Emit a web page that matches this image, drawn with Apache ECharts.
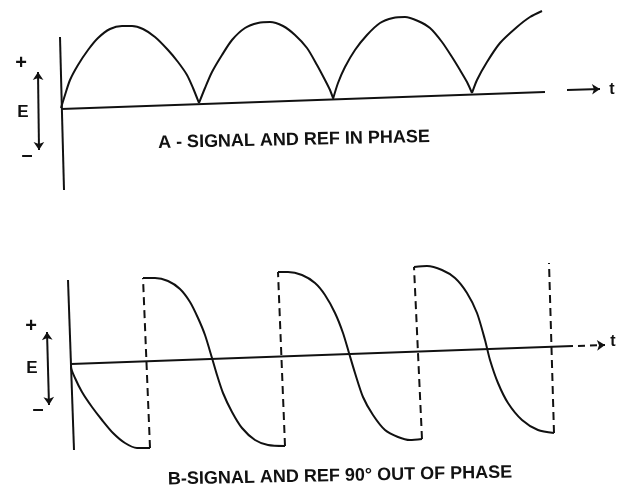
<!DOCTYPE html>
<html lang="en">
<head>
<meta charset="UTF-8">
<title>Signal and ref phase</title>
<script src="https://cdn.jsdelivr.net/npm/echarts@6/dist/echarts.min.js"></script>
<style>
    html, body { margin: 0; background: #fff; }
    #main_1 { width: 622px; height: 491px; }
</style>
</head>
<body>
<div id="main_1"></div>
<script>
// A - in phase: t and E (arbitrary units)
var humpA1 = [[0,1],[4,14],[9,29],[17,44],[27,59],[37,71],[49,80],[61,83],[71,83],[82,80],[94,72],[107,59],[117,47],[126,34],[132,21],[138,6]];
var humpA2 = [[138,6],[144,21],[151,37],[161,54],[171,69],[184,81],[197,86],[209,87],[222,83],[234,74],[246,61],[256,44],[264,29],[269,19],[272,11]];
var humpA3 = [[272,10],[277,26],[284,42],[294,59],[306,74],[319,86],[332,91],[344,92],[357,88],[369,81],[381,67],[391,52],[399,39],[406,27],[411,16]];
var humpA4 = [[411,16],[416,29],[426,47],[439,66],[456,82],[469,92],[481,98]];
var baseA = [[0,0],[484,17]];
var axisA = [[-1,72],[3,-81]];

// B - 90 deg out of phase
var wavB1 = [[0,0],[0,-3],[4,-14],[11,-28],[21,-43],[31,-56],[42,-69],[54,-79],[66,-84],[79,-84]];
var wavB2 = [[72,86],[84,86],[97,83],[109,75],[119,62],[127,46],[134,29],[141,6],[146,-11],[152,-29],[161,-48],[171,-64],[184,-76],[197,-81],[214,-82]];
var wavB3 = [[207,92],[217,92],[231,89],[244,81],[254,69],[264,51],[272,31],[278,11],[284,-9],[292,-33],[302,-51],[314,-66],[327,-73],[339,-76],[351,-75]];
var wavB4 = [[343,97],[356,98],[371,94],[384,86],[396,71],[406,51],[414,24],[419,4],[427,-19],[437,-39],[451,-56],[467,-66],[483,-69]];
var jumpsB = [
    [[79,-84],[72,86]],
    [[214,-82],[207,92]],
    [[351,-75],[343,97]],
    [[483,-69],[478,101]]
];
var baseB = [[0,0],[502,18]];
var axisB = [[-3,84],[3,-86]];

var ink = '#111';

function curve(data, idx, dashed) {
    return {
        type: 'line',
        xAxisIndex: idx,
        yAxisIndex: idx,
        data: data,
        symbol: 'none',
        smooth: dashed ? false : 0.25,
        clip: false,
        silent: true,
        lineStyle: { color: ink, width: 2, type: dashed ? [8, 5] : 'solid' }
    };
}

function arrow(from, to, idx, both, dashed) {
    return {
        type: 'lines',
        coordinateSystem: 'cartesian2d',
        xAxisIndex: idx,
        yAxisIndex: idx,
        symbol: [both ? 'arrow' : 'none', 'arrow'],
        symbolSize: 8,
        silent: true,
        lineStyle: { color: ink, width: 2, opacity: 1, type: dashed ? [7, 5] : 'solid' },
        data: [{ coords: [from, to] }]
    };
}

var series = [
    curve(humpA1, 0), curve(humpA2, 0), curve(humpA3, 0), curve(humpA4, 0),
    curve(baseA, 0), curve(axisA, 0),
    arrow([506, 19], [539, 20], 0, false, false),
    arrow([-23, 37], [-22, -41], 0, true, false),
    curve(wavB1, 1), curve(wavB2, 1), curve(wavB3, 1), curve(wavB4, 1),
    curve(baseB, 1), curve(axisB, 1),
    arrow([507, 18], [534, 19], 1, false, true),
    arrow([-24, 32], [-22, -41], 1, true, false)
];
jumpsB.forEach(function (j) {
    series.push(curve(j, 1, true));
});

function label(txt, x, y, size, rot) {
    return {
        type: 'text',
        x: x, y: y,
        rotation: rot || 0,
        style: {
            text: txt,
            font: 'bold ' + size + 'px "Liberation Sans", Arial, sans-serif',
            fill: ink,
            align: 'center',
            verticalAlign: 'middle'
        }
    };
}

var myChart = echarts.init(document.getElementById('main_1'));
var option = {
    animation: false,
    backgroundColor: '#fff',
    grid: [
        { left: 0, right: 0, top: 9, height: 200 },
        { left: 0, right: 0, top: 254, height: 220 }
    ],
    xAxis: [
        { gridIndex: 0, type: 'value', min: -61, max: 561, show: false },
        { gridIndex: 1, type: 'value', min: -71, max: 551, show: false }
    ],
    yAxis: [
        { gridIndex: 0, type: 'value', min: -100, max: 100, show: false },
        { gridIndex: 1, type: 'value', min: -110, max: 110, show: false }
    ],
    graphic: [
        label('+', 21, 63, 20),
        label('E', 23, 112, 17),
        label('\u2013', 27, 155, 20),
        label('t', 612, 90, 16),
        label('A - SIGNAL AND REF IN PHASE', 294, 140, 18, 0.022),
        label('+', 31, 326, 20),
        label('E', 32, 368, 17),
        label('\u2013', 38, 409, 20),
        label('t', 613, 342, 16),
        label('B-SIGNAL AND REF 90\u00b0 OUT OF PHASE', 340, 476, 18, 0.02)
    ],
    series: series
};
myChart.setOption(option);
</script>
</body>
</html>
